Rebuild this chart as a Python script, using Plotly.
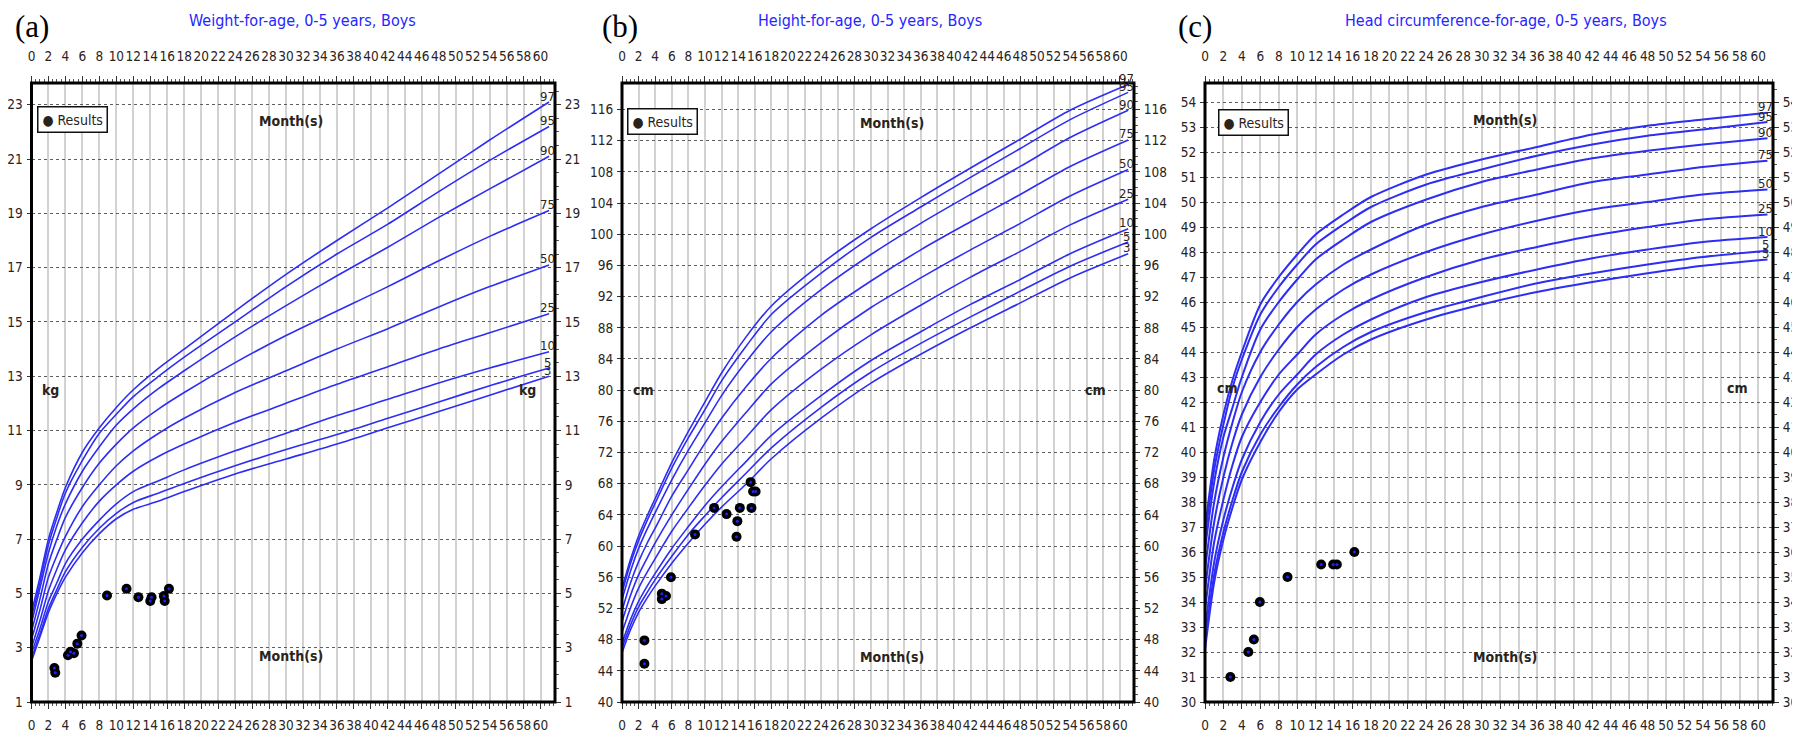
import plotly.graph_objects as go

# ---------------- data ----------------
MONTHS = [0, 1, 2, 3, 4, 6, 8, 10, 12, 15, 18, 24, 30, 36, 42, 48, 54, 61]
PERCENTILES = ["3", "5", "10", "25", "50", "75", "90", "95", "97"]

# Weight-for-age (kg)
W_P3 = [2.5, 3.4, 4.3, 5.0, 5.6, 6.5, 7.2, 7.75, 8.1, 8.4, 8.75, 9.4, 9.95, 10.5, 11.1, 11.7, 12.3, 13.0]
W_P5 = [2.6, 3.5, 4.45, 5.15, 5.8, 6.7, 7.4, 7.95, 8.35, 8.7, 9.05, 9.7, 10.3, 10.85, 11.45, 12.05, 12.65, 13.3]
W_P10 = [2.8, 3.7, 4.7, 5.4, 6.1, 7.0, 7.7, 8.3, 8.75, 9.15, 9.55, 10.25, 10.9, 11.55, 12.15, 12.75, 13.3, 13.9]
W_P25 = [3.0, 4.0, 5.1, 5.9, 6.6, 7.6, 8.4, 9.0, 9.5, 10.05, 10.5, 11.3, 12.0, 12.7, 13.35, 14.0, 14.6, 15.3]
W_P50 = [3.3, 4.4, 5.6, 6.4, 7.1, 8.2, 9.0, 9.7, 10.25, 10.9, 11.45, 12.4, 13.2, 14.0, 14.75, 15.55, 16.3, 17.1]
W_P75 = [3.6, 4.8, 6.1, 7.0, 7.8, 8.9, 9.8, 10.5, 11.1, 11.8, 12.4, 13.5, 14.5, 15.4, 16.3, 17.25, 18.15, 19.1]
W_P90 = [3.9, 5.2, 6.5, 7.5, 8.3, 9.5, 10.4, 11.2, 11.8, 12.55, 13.2, 14.45, 15.6, 16.7, 17.75, 18.85, 19.9, 21.1]
W_P95 = [4.1, 5.4, 6.8, 7.8, 8.7, 9.9, 10.9, 11.6, 12.25, 13.0, 13.7, 15.0, 16.3, 17.5, 18.6, 19.8, 20.95, 22.2]
W_P97 = [4.3, 5.6, 7.0, 8.0, 8.9, 10.2, 11.1, 11.85, 12.5, 13.3, 14.0, 15.4, 16.75, 18.0, 19.2, 20.45, 21.7, 23.1]

# Height-for-age (cm)
H_P3 = [46.3, 49.2, 51.5, 53.3, 54.9, 57.8, 60.4, 62.8, 65.0, 68.0, 71.2, 76.4, 80.9, 84.6, 88.0, 91.2, 94.4, 97.5]
H_P5 = [46.9, 49.8, 52.2, 54.0, 55.7, 58.7, 61.5, 63.9, 66.2, 69.4, 72.6, 77.8, 82.3, 86.0, 89.4, 92.7, 95.9, 99.0]
H_P10 = [47.5, 50.5, 52.9, 54.8, 56.5, 59.7, 62.5, 65.2, 67.6, 70.9, 74.2, 79.3, 83.8, 87.5, 91.0, 94.2, 97.5, 100.7]
H_P25 = [48.9, 52.0, 54.6, 56.6, 58.4, 61.9, 64.9, 67.8, 70.5, 74.0, 77.5, 82.7, 87.1, 90.9, 94.5, 97.8, 101.2, 104.5]
H_P50 = [50.3, 53.6, 56.3, 58.4, 60.4, 64.0, 67.3, 70.5, 73.4, 77.2, 80.8, 86.1, 90.6, 94.4, 98.0, 101.4, 104.9, 108.3]
H_P75 = [51.7, 55.2, 58.0, 60.3, 62.3, 66.4, 69.8, 73.2, 76.4, 80.5, 84.1, 89.6, 94.0, 98.0, 101.6, 105.1, 108.7, 112.1]
H_P90 = [53.1, 56.7, 59.7, 62.1, 64.3, 68.5, 72.3, 75.8, 79.3, 83.7, 87.5, 92.9, 97.4, 101.4, 105.1, 108.7, 112.4, 115.9]
H_P95 = [54.0, 57.7, 60.7, 63.2, 65.5, 70.0, 73.9, 77.5, 81.2, 85.7, 89.7, 95.0, 99.6, 103.5, 107.3, 111.0, 114.7, 118.2]
H_P97 = [54.5, 58.2, 61.3, 63.8, 66.1, 70.7, 74.7, 78.5, 82.2, 86.9, 90.8, 96.2, 100.7, 104.7, 108.5, 112.2, 115.9, 119.2]

# Head circumference-for-age (cm)
C_P3 = [32.1, 34.8, 36.5, 37.8, 38.9, 40.4, 41.6, 42.5, 43.1, 43.9, 44.5, 45.3, 45.9, 46.4, 46.8, 47.15, 47.45, 47.7]
C_P5 = [32.4, 35.1, 36.8, 38.1, 39.2, 40.7, 41.8, 42.7, 43.4, 44.2, 44.8, 45.6, 46.2, 46.75, 47.15, 47.5, 47.8, 48.05]
C_P10 = [32.9, 35.6, 37.3, 38.6, 39.7, 41.2, 42.3, 43.1, 43.9, 44.7, 45.3, 46.2, 46.8, 47.3, 47.75, 48.1, 48.4, 48.6]
C_P25 = [33.7, 36.4, 38.1, 39.5, 40.6, 42.0, 43.1, 43.9, 44.7, 45.5, 46.1, 47.0, 47.7, 48.2, 48.65, 49.0, 49.3, 49.5]
C_P50 = [34.5, 37.2, 39.0, 40.4, 41.5, 43.0, 44.1, 45.0, 45.7, 46.5, 47.1, 48.0, 48.7, 49.25, 49.7, 50.0, 50.3, 50.5]
C_P75 = [35.3, 38.0, 39.8, 41.2, 42.4, 44.0, 45.1, 46.0, 46.7, 47.5, 48.1, 49.1, 49.8, 50.3, 50.8, 51.1, 51.4, 51.65]
C_P90 = [36.1, 38.8, 40.6, 41.8, 43.0, 44.9, 46.0, 46.9, 47.7, 48.5, 49.2, 50.1, 50.8, 51.3, 51.75, 52.05, 52.3, 52.55]
C_P95 = [36.6, 39.3, 41.1, 42.6, 43.7, 45.5, 46.6, 47.5, 48.3, 49.1, 49.8, 50.7, 51.3, 51.85, 52.3, 52.65, 52.9, 53.2]
C_P97 = [36.9, 39.7, 41.5, 42.9, 44.0, 45.9, 47.0, 47.9, 48.7, 49.5, 50.2, 51.1, 51.7, 52.2, 52.7, 53.05, 53.3, 53.57]

# Measured results of the child
W_RES_MONTH = [2.7, 2.8, 4.3, 4.6, 5.0, 5.4, 5.9, 8.9, 11.2, 12.6, 14.0, 14.15, 15.6, 15.7, 16.2]
W_RES_KG = [2.25, 2.08, 2.72, 2.85, 2.8, 3.15, 3.45, 4.92, 5.17, 4.86, 4.72, 4.86, 4.9, 4.72, 5.17]
H_RES_MONTH = [2.7, 2.7, 4.8, 4.8, 5.3, 5.9, 8.8, 11.1, 12.6, 13.9, 13.8, 14.2, 15.5, 15.6, 15.8, 16.1]
H_RES_CM = [47.9, 44.9, 53.9, 53.2, 53.6, 56.0, 61.5, 64.9, 64.1, 63.2, 61.2, 64.9, 68.2, 64.9, 67.0, 67.0]
C_RES_MONTH = [2.75, 4.7, 5.3, 5.95, 8.95, 12.6, 13.9, 14.3, 16.2]
C_RES_CM = [31.0, 32.0, 32.5, 34.0, 35.0, 35.5, 35.5, 35.5, 36.0]

# Tick labels
X_TICKS = list(range(0, 61, 2))
W_TICKS = list(range(1, 24, 2))
H_TICKS = list(range(40, 117, 4))
C_TICKS = list(range(30, 55, 1))

TITLES = ["Weight-for-age, 0-5 years, Boys",
          "Height-for-age, 0-5 years, Boys",
          "Head circumference-for-age, 0-5 years, Boys"]
LETTERS = ["(a)", "(b)", "(c)"]
UNITS = ["kg", "cm", "cm"]

# ---------------- styling / layout ----------------
W, H = 1800, 743
FONT = "DejaVu Sans Condensed, Liberation Sans Narrow, Arial Narrow, sans-serif"
BLUE = "#2d2df4"
TXT = "#2a231c"
GRID_V = "#d2d2d2"
GRID_H = "#5e5e5e"
TOP, BOTTOM = 75, 694


def px_dom_x(a, b):
    return [a / W, b / W]


def px_dom_y(top, bottom):
    return [1 - bottom / H, 1 - top / H]


panels = [
    dict(curves=[W_P3, W_P5, W_P10, W_P25, W_P50, W_P75, W_P90, W_P95, W_P97],
         rx=W_RES_MONTH, ry=W_RES_KG, yticks=W_TICKS,
         dx=px_dom_x(23.5, 547), xr=[0, 61.7], yr=[1, 23.8],
         yminor=0.5, unit_y=12.5, mt=22.4, mb=2.7, mx=30.6, ux=(2.2, 58.5), lw=1.6,
         title_x=294, letter_x=24, box=(64, 112)),
    dict(curves=[H_P3, H_P5, H_P10, H_P25, H_P50, H_P75, H_P90, H_P95, H_P97],
         rx=H_RES_MONTH, ry=H_RES_CM, yticks=H_TICKS,
         dx=px_dom_x(614, 1126), xr=[0, 61.7], yr=[40, 119.4],
         yminor=1, unit_y=80, mt=114.3, mb=45.8, mx=32.5, ux=(2.6, 57.0), lw=1.6,
         title_x=862, letter_x=612, box=(654, 113)),
    dict(curves=[C_P3, C_P5, C_P10, C_P25, C_P50, C_P75, C_P90, C_P95, C_P97],
         rx=C_RES_MONTH, ry=C_RES_CM, yticks=C_TICKS,
         dx=px_dom_x(1197, 1765), xr=[0, 61.6], yr=[30, 54.76],
         yminor=0.5, unit_y=42.55, mt=53.3, mb=31.8, mx=32.5, ux=(2.4, 57.8), lw=2.0,
         title_x=1498, letter_x=1187, box=(1245, 114)),
]

fig = go.Figure()
layout = dict(width=W, height=H, margin=dict(l=0, r=0, t=0, b=0, pad=0, autoexpand=False),
              paper_bgcolor="white", plot_bgcolor="white",
              font=dict(family=FONT, color=TXT, size=13),
              showlegend=False, annotations=[], shapes=[])

for i, p in enumerate(panels):
    n = i + 1
    xb, yl = f"x{n}" if n > 1 else "x", f"y{n}" if n > 1 else "y"
    xt, yr_ = f"x{n + 3}", f"y{n + 3}"
    xb_key = "xaxis" if n == 1 else f"xaxis{n}"
    yl_key = "yaxis" if n == 1 else f"yaxis{n}"
    dy = px_dom_y(TOP, BOTTOM)

    tickfont = dict(family=FONT, size=13.5, color=TXT)
    common_x = dict(range=p["xr"], tickvals=X_TICKS, ticks="outside", ticklen=6,
                    tickcolor="#333", tickwidth=1, tickfont=tickfont, zeroline=False,
                    showline=False, tickangle=0, automargin=False,
                    minor=dict(dtick=0.5, tick0=0, ticks="outside", ticklen=3,
                               tickcolor="#555"))
    common_y = dict(range=p["yr"], tickvals=p["yticks"], ticks="outside",
                    tickcolor="#333", tickwidth=1, tickfont=tickfont, zeroline=False,
                    showline=False, tickangle=0, automargin=False)

    layout[xb_key] = dict(domain=p["dx"], anchor=yl, showgrid=True, gridcolor=GRID_V,
                          gridwidth=1.6, ticklabelstandoff=5, **common_x)
    layout[yl_key] = dict(domain=dy, anchor=xb, showgrid=True, gridcolor=GRID_H,
                          gridwidth=1.3, griddash="dot", ticklen=4, ticklabelstandoff=1,
                          **common_y)
    layout[f"xaxis{n + 3}"] = dict(overlaying=xb, anchor=yl, side="top",
                                   showgrid=False, ticklabelstandoff=10, **common_x)
    layout[f"yaxis{n + 3}"] = dict(overlaying=yl, anchor=xb, side="right",
                                   showgrid=False, ticklen=5, ticklabelstandoff=1,
                                   minor=dict(dtick=p["yminor"], ticks="outside",
                                              ticklen=3, tickcolor="#555"),
                                   **common_y)

    # dummy traces so the mirrored axes are drawn
    fig.add_trace(go.Scatter(x=[None], y=[None], xaxis=xt, yaxis=yl, hoverinfo="skip"))
    fig.add_trace(go.Scatter(x=[None], y=[None], xaxis=xb, yaxis=yr_, hoverinfo="skip"))

    # percentile curves
    for pct, vals in zip(PERCENTILES, p["curves"]):
        fig.add_trace(go.Scatter(x=MONTHS, y=vals, mode="lines", xaxis=xb, yaxis=yl,
                                 line=dict(color=BLUE, width=p["lw"], shape="spline",
                                           smoothing=0.8),
                                 hoverinfo="skip"))
        layout["annotations"].append(dict(
            x=MONTHS[-1] - 0.2, y=vals[-1], xref=xb, yref=yl, text=pct, showarrow=False,
            xanchor="center", yanchor="middle", yshift=6,
            font=dict(family=FONT, size=13, color=TXT)))

    # results
    fig.add_trace(go.Scatter(x=p["rx"], y=p["ry"], mode="markers", xaxis=xb, yaxis=yl,
                             name="Results",
                             marker=dict(color="black", size=10, symbol="circle",
                                         line=dict(width=0))))
    fig.add_trace(go.Scatter(x=p["rx"], y=p["ry"], mode="markers", xaxis=xb, yaxis=yl,
                             hoverinfo="skip", marker=dict(color="#2020ff", size=3)))

    # "Results" key box
    layout["annotations"].append(dict(
        x=p["box"][0] / W, y=1 - p["box"][1] / H, xref="paper", yref="paper",
        text="\u25CF Results", showarrow=False, xanchor="center", yanchor="middle",
        bgcolor="white", bordercolor="#111", borderwidth=1.5, borderpad=4,
        font=dict(family=FONT, size=14, color=TXT)))

    # frame
    layout["shapes"].append(dict(type="rect", xref=f"{xb} domain", yref=f"{yl} domain",
                                 x0=0, x1=1, y0=0, y1=1, line=dict(color="black", width=3),
                                 layer="above"))

    # texts
    bold = dict(family=FONT, size=14, color=TXT, weight="bold")
    for yy in (p["mt"], p["mb"]):
        layout["annotations"].append(dict(x=p["mx"], y=yy, xref=xb, yref=yl, text="Month(s)",
                                          showarrow=False, font=bold))
    for ux in p["ux"]:
        layout["annotations"].append(dict(x=ux, y=p["unit_y"], xref=xb, yref=yl,
                                          text=UNITS[i], showarrow=False, font=bold))
    layout["annotations"].append(dict(x=p["title_x"] / W, y=1 - 12 / H, xref="paper",
                                      yref="paper", text=TITLES[i], showarrow=False,
                                      xanchor="center", yanchor="middle",
                                      font=dict(family=FONT, size=16, color="#2626ff")))
    layout["annotations"].append(dict(x=p["letter_x"] / W, y=1 - 19 / H, xref="paper",
                                      yref="paper", text=LETTERS[i], showarrow=False,
                                      xanchor="center", yanchor="middle",
                                      font=dict(family="Liberation Serif, Times New Roman, serif",
                                                size=31, color="black")))

fig.update_layout(**layout)
fig.write_html("out.html")
